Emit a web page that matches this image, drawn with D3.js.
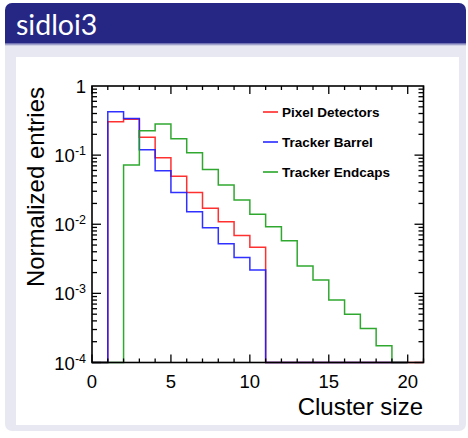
<!DOCTYPE html>
<html>
<head>
<meta charset="utf-8">
<script src="https://cdn.jsdelivr.net/npm/d3@7"></script>
<style>
  html, body { margin: 0; padding: 0; background: #fff; }
  svg text { font-family: "Liberation Sans", Arial, sans-serif; }
</style>
</head>
<body>
<div id="container"></div>
<script>
// bin lower edges: 0,1,2,... (unit-width bins)
const pixelDetectors = [0, 0.304, 0.33, 0.181, 0.0918, 0.0493, 0.0289, 0.017, 0.0109, 0.0069, 0.00463,
    0, 0, 0, 0, 0, 0, 0, 0, 0, 0];
const trackerBarrel = [0, 0.425, 0.34, 0.12, 0.0595, 0.0289, 0.0152, 0.0089, 0.00522, 0.0033, 0.00217,
    0, 0, 0, 0, 0, 0, 0, 0, 0];
const trackerEndcaps = [0, 0, 0.0719, 0.226, 0.282, 0.173, 0.108, 0.0622, 0.0369, 0.0224, 0.0139,
    0.0092, 0.00578, 0.00248, 0.00156, 0.0008, 0.0005, 0.000311, 0.000175, 0];
const seriesNames = ["Pixel Detectors", "Tracker Barrel", "Tracker Endcaps"];
const seriesColors = ["#ff1a1a", "#1a1aff", "#1a9f1a"];
const xTicks = [0, 5, 10, 15, 20];
const yTicks = [1, 1e-1, 1e-2, 1e-3, 1e-4];

const width = 468, height = 438;
const svg = d3.select("#container").append("svg")
    .attr("width", width)
    .attr("height", height);

// beamer frame
const defs = svg.append("defs");
const grad = defs.append("linearGradient").attr("id", "shade")
    .attr("x1", 0).attr("y1", 0).attr("x2", 0).attr("y2", 1);
grad.append("stop").attr("offset", 0).attr("stop-color", "#5a5ca6");
grad.append("stop").attr("offset", 1).attr("stop-color", "#e8e8f2");

svg.append("rect").attr("x", 5).attr("y", 3).attr("width", 461).attr("height", 428)
    .attr("rx", 7).attr("fill", "#e8e8f2");
svg.append("rect").attr("x", 5).attr("y", 3).attr("width", 461).attr("height", 40)
    .attr("rx", 7).attr("fill", "#262784");
svg.append("rect").attr("x", 5).attr("y", 20).attr("width", 461).attr("height", 23)
    .attr("fill", "#262784");
svg.append("rect").attr("x", 5).attr("y", 43).attr("width", 461).attr("height", 3)
    .attr("fill", "url(#shade)");
svg.append("rect").attr("x", 16).attr("y", 57).attr("width", 443).attr("height", 368)
    .attr("fill", "#fff");
svg.append("text").attr("x", 16).attr("y", 35)
    .attr("fill", "#fff")
    .style("font-family", "Lato, 'Open Sans', sans-serif")
    .style("font-size", "28.5px")
    .text("sidloi3");

// plot area
const x = d3.scaleLinear().domain([0, 21]).range([92, 423.5]);
const y = d3.scaleLog().domain([1e-4, 1]).range([362.5, 86]);

const g = svg.append("g");

function stepPath(values) {
    const pts = [];
    values.forEach((v, i) => {
        const yy = v > 1e-4 ? y(v) : y(1e-4);
        pts.push([x(i), yy], [x(i + 1), yy]);
    });
    return d3.line()(pts);
}

[pixelDetectors, trackerBarrel, trackerEndcaps].forEach((vals, k) => {
    g.append("path")
        .attr("d", stepPath(vals))
        .attr("fill", "none")
        .attr("stroke", seriesColors[k])
        .attr("stroke-width", 1.5)
        .attr("stroke-opacity", 0.9);
});

// ticks on all four sides
const ticks = g.append("g").attr("stroke", "#000").attr("stroke-width", 1.3);
d3.range(0, 22).forEach(v => {
    const len = v % 5 === 0 ? 8 : 4;
    ticks.append("line").attr("x1", x(v)).attr("x2", x(v))
        .attr("y1", y(1e-4)).attr("y2", y(1e-4) - len);
    ticks.append("line").attr("x1", x(v)).attr("x2", x(v))
        .attr("y1", y(1)).attr("y2", y(1) + len);
});
yTicks.slice(0, -1).forEach(dec => {
    d3.range(1, 10).forEach(m => {
        const v = dec * m / 10;
        const len = m === 1 ? 9 : 5;
        ticks.append("line").attr("x1", x(0)).attr("x2", x(0) + len)
            .attr("y1", y(v)).attr("y2", y(v));
        ticks.append("line").attr("x1", x(21)).attr("x2", x(21) - len)
            .attr("y1", y(v)).attr("y2", y(v));
    });
});

g.append("rect")
    .attr("x", x(0)).attr("y", y(1))
    .attr("width", x(21) - x(0)).attr("height", y(1e-4) - y(1))
    .attr("fill", "none").attr("stroke", "#000").attr("stroke-width", 1.6);

// tick labels
g.selectAll(".xl").data(xTicks).enter().append("text")
    .attr("x", d => x(d)).attr("y", 388)
    .attr("text-anchor", "middle")
    .style("font-size", "18.5px")
    .text(d => d);

yTicks.forEach((v, i) => {
    const t = g.append("text").attr("x", 86).attr("y", y(v) + 7)
        .attr("text-anchor", "end")
        .style("font-size", "18.5px");
    if (i === 0) {
        t.text("1");
    } else {
        t.append("tspan").text("10");
        t.append("tspan").attr("dy", -7).style("font-size", "12.5px").text("-" + i);
    }
});

g.append("text").attr("x", 423).attr("y", 415)
    .attr("text-anchor", "end")
    .style("font-size", "24px")
    .text("Cluster size");

g.append("text")
    .attr("transform", "translate(44,87) rotate(-90)")
    .attr("text-anchor", "end")
    .style("font-size", "24px")
    .text("Normalized entries");

// legend
const legend = g.append("g");
seriesNames.forEach((name, k) => {
    const ly = 112 + k * 30;
    legend.append("line")
        .attr("x1", 263).attr("x2", 278).attr("y1", ly).attr("y2", ly)
        .attr("stroke", seriesColors[k]).attr("stroke-width", 1.5);
    legend.append("text")
        .attr("x", 282).attr("y", ly + 4.8)
        .style("font-size", "13.5px").style("font-weight", "bold")
        .text(name);
});
</script>
</body>
</html>
